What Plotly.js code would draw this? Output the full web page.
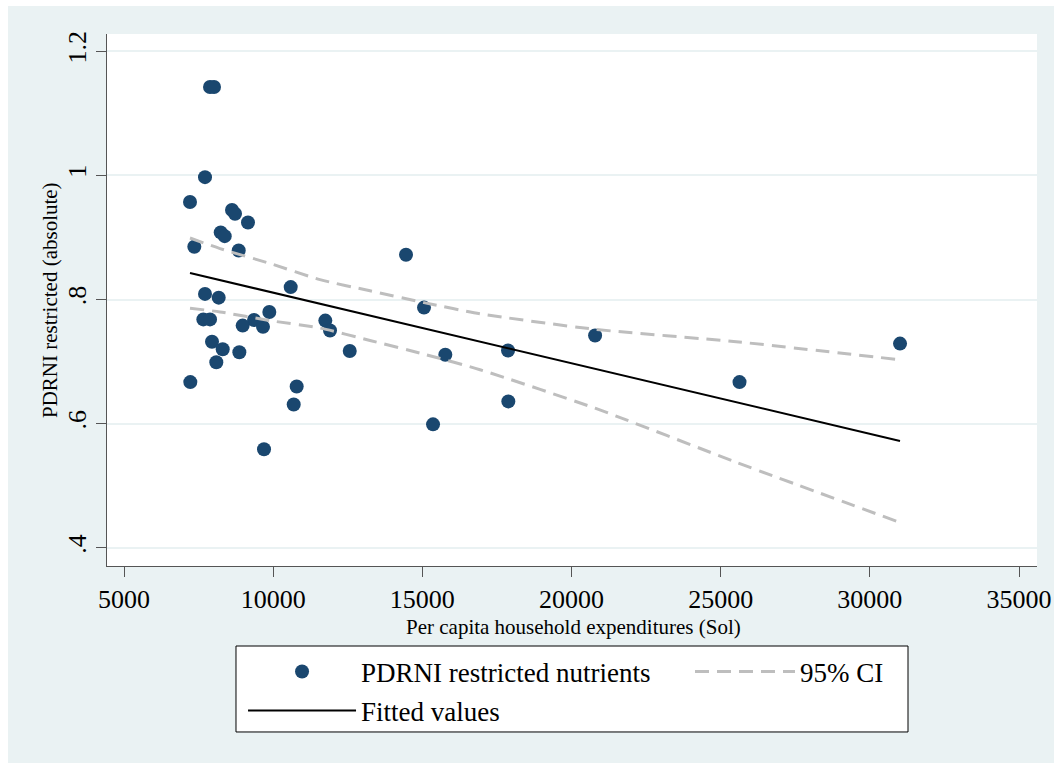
<!DOCTYPE html>
<html><head><meta charset="utf-8">
<script src="https://cdn.plot.ly/plotly-3.0.1.min.js"></script>
<style>
html,body{margin:0;padding:0;background:#ffffff;}
#chart{position:absolute;left:8px;top:6px;width:1046px;height:757px;}
</style></head><body><div id="chart"></div>
<script>
// Per capita household expenditures (Sol) and PDRNI restricted (absolute)
const expenditure = [7883, 8017, 7715, 7212, 8620, 8721, 9156, 8241, 8375, 7357, 8845, 10588, 7715, 8174, 7659, 7883, 9871, 9358, 8978, 9659, 11748, 11905, 7950, 8308, 8866, 12566, 8094, 7223, 10788, 10688, 9693, 14453, 15056, 15770, 17872, 17882, 15358, 20790, 25632, 31012];
const pdrni = [1.142, 1.142, 0.997, 0.957, 0.944, 0.938, 0.924, 0.908, 0.902, 0.885, 0.879, 0.820, 0.809, 0.803, 0.768, 0.768, 0.780, 0.767, 0.758, 0.756, 0.766, 0.750, 0.732, 0.720, 0.715, 0.717, 0.699, 0.667, 0.660, 0.631, 0.559, 0.872, 0.787, 0.711, 0.718, 0.636, 0.599, 0.742, 0.667, 0.729];

// Fitted values
const fitX = [7212, 31012];
const fitY = [0.8427, 0.5722];

// 95% CI
const ciX = [7212, 8218, 9894, 11570, 13246, 15056, 16933, 20790, 25523, 31012];
const ciUpper = [0.899, 0.882, 0.858, 0.832, 0.814, 0.795, 0.777, 0.752, 0.732, 0.703];
const ciLower = [0.786, 0.780, 0.766, 0.754, 0.734, 0.712, 0.687, 0.625, 0.538, 0.441];

// Ticks
const xTickVals = [5000, 10000, 15000, 20000, 25000, 30000, 35000];
const xTickText = ["5000", "10000", "15000", "20000", "25000", "30000", "35000"];
const yTickVals = [0.4, 0.6, 0.8, 1.0, 1.2];
const yTickText = [".4", ".6", ".8", "1", "1.2"];

const seriesNames = ["PDRNI restricted nutrients", "95% CI", "Fitted values"];
const xTitle = "Per capita household expenditures (Sol)";
const yTitle = "PDRNI restricted (absolute)";

const FONT = "Liberation Serif, Times New Roman, serif";
const NAVY = "#1A476F";
const CIGRAY = "#BEBEBE";
const BG = "#EAF2F3";

const ciLine = {color: CIGRAY, width: 3, dash: "14px,8px", shape: "spline", smoothing: 0.6};

const traces = [
  {
    type: "scatter", mode: "markers", x: expenditure, y: pdrni,
    name: seriesNames[0], legend: "legend",
    marker: {color: NAVY, size: 14, line: {width: 0}}
  },
  {
    type: "scatter", mode: "lines", x: ciX, y: ciUpper,
    name: seriesNames[1], legend: "legend2", legendgroup: "ci",
    line: ciLine
  },
  {
    type: "scatter", mode: "lines", x: ciX, y: ciLower,
    name: seriesNames[1], legend: "legend2", legendgroup: "ci", showlegend: false,
    line: ciLine
  },
  {
    type: "scatter", mode: "lines", x: fitX, y: fitY,
    name: seriesNames[2], legend: "legend3",
    line: {color: "#000000", width: 2}
  }
];

function legendAt(x, y, iw) {
  return {
    orientation: "v", xref: "container", yref: "container",
    x: x, xanchor: "left", y: y, yanchor: "middle",
    bgcolor: "rgba(0,0,0,0)", borderwidth: 0, itemwidth: iw,
    font: {family: FONT, size: 27, color: "#000000"}
  };
}

const titleFont = {family: FONT, size: 21, color: "#000000"};

const layout = {
  width: 1046, height: 757,
  paper_bgcolor: BG, plot_bgcolor: "#ffffff",
  margin: {l: 99, r: 17, t: 28, b: 197, pad: 0, autoexpand: false},
  font: {family: FONT, color: "#000000", size: 26},
  showlegend: true,
  xaxis: {
    range: [4430, 35603], tickmode: "array", tickvals: xTickVals, ticktext: xTickText,
    showline: true, linecolor: "#555555", linewidth: 1, mirror: false,
    ticks: "outside", ticklen: 10, tickwidth: 1, tickcolor: "#555555",
    showgrid: false, zeroline: false,
    tickfont: {family: FONT, size: 26, color: "#000000"}
  },
  yaxis: {
    range: [0.371, 1.2274], tickmode: "array", tickvals: yTickVals, ticktext: yTickText,
    showline: true, linecolor: "#555555", linewidth: 1, mirror: false,
    ticks: "outside", ticklen: 10, tickwidth: 1, tickcolor: "#555555",
    showgrid: true, gridcolor: BG, gridwidth: 1.5, zeroline: false,
    tickangle: -90,
    tickfont: {family: FONT, size: 26, color: "#000000"}
  },
  annotations: [
    {text: xTitle, xref: "paper", yref: "paper", x: 0.502, y: -0.1147,
     xanchor: "center", yanchor: "middle", showarrow: false, borderpad: 0, font: titleFont},
    {text: yTitle, xref: "paper", yref: "paper", x: -0.0613, y: 0.5,
     xanchor: "center", yanchor: "middle", textangle: -90, showarrow: false, borderpad: 0, font: titleFont}
  ],
  legend: legendAt(0.2247, 0.1202, 108),
  legend2: legendAt(0.6520, 0.1202, 100),
  legend3: legendAt(0.2247, 0.0687, 108),
  shapes: [
    {type: "rect", xref: "paper", yref: "paper", x0: 0.1387, x1: 0.8613, y0: -0.3120, y1: -0.1504,
     line: {color: "#000000", width: 1}, fillcolor: "#ffffff", layer: "below"}
  ]
};

Plotly.newPlot("chart", traces, layout, {displayModeBar: false, responsive: false});
</script>
</body></html>
